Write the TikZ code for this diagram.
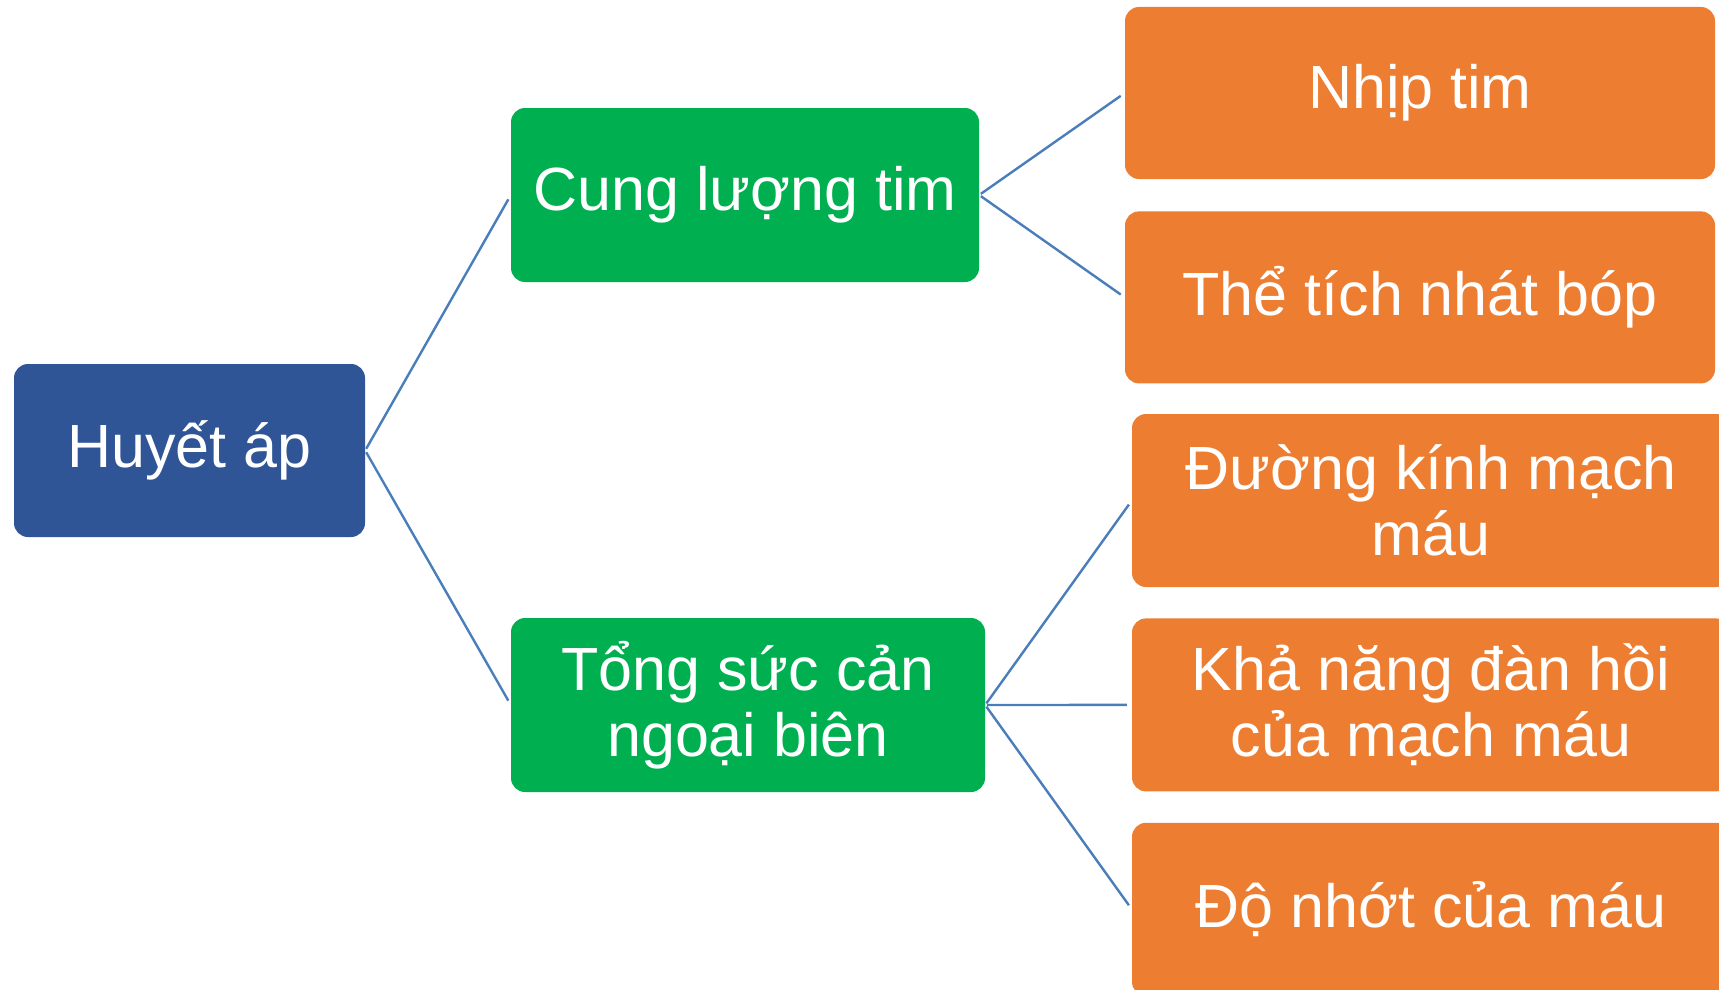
\documentclass[tikz,border=0pt]{standalone}
\usepackage{fontspec}
\setmainfont{Liberation Sans}
\usetikzlibrary{positioning}
\definecolor{rootblue}{HTML}{2F5597}
\definecolor{midgreen}{HTML}{00B050}
\definecolor{leaforange}{HTML}{ED7D31}
\definecolor{linkblue}{HTML}{4A7EBB}

\tikzset{
  box/.style={rectangle, rounded corners=14pt, text=white, font=\fontsize{61}{66}\selectfont, align=center, inner sep=0pt, minimum height=173pt},
  rootbox/.style={box, fill=rootblue, minimum width=351pt},
  midbox/.style={box, fill=midgreen, minimum height=174pt},
  leafbox/.style={box, fill=leaforange, minimum width=598pt},
  link/.style={draw=linkblue, line width=2.4pt}
}

\begin{document}
\begin{tikzpicture}[x=1pt, y=1pt, node distance=31pt]
			\useasboundingbox (0,0) rectangle (1719,-990);
			\clip (0,0) rectangle (1719,-990);
			\node[rootbox]  (bp)  at (189.5,-450.5) {Huyết áp};
			\node[midbox, minimum width=468pt]  (co)  at (745,-195) {Cung lượng tim};
			\node[midbox, minimum width=474pt]  (tpr)  at (748,-705) {Tổng sức cản\\ngoại biên};
			\node[leafbox, minimum width=590pt, minimum height=172pt]  (hr)  at (1420,-93) {Nhịp tim};
			\node[leafbox, minimum width=590pt, minimum height=172pt, below=32pt of hr]  (sv)  {Thể tích nhát bóp};
			\node[leafbox]  (diam)  at (1431,-500.5) {Đường kính mạch\\máu};
			\node[leafbox, below=of diam]  (elast)  {Khả năng đàn hồi\\của mạch máu};
			\node[leafbox, below=of elast]  (visc)  {Độ nhớt của máu};

			\draw[link, shorten <=2pt, shorten >=5pt] (bp.east) -- (co.west) ;
			\draw[link, shorten <=2pt, shorten >=5pt] (bp.east) -- (tpr.west) ;
			\draw[link, shorten <=2pt, shorten >=5pt] (co.east) -- (hr.west) ;
			\draw[link, shorten <=2pt, shorten >=5pt] (co.east) -- (sv.west) ;
			\draw[link, shorten <=2pt, shorten >=5pt] (tpr.east) -- (diam.west) ;
			\draw[link, shorten <=2pt, shorten >=5pt] (tpr.east) -- (elast.west) ;
			\draw[link, shorten <=2pt, shorten >=5pt] (tpr.east) -- (visc.west) ;
		\end{tikzpicture}
\end{document}
